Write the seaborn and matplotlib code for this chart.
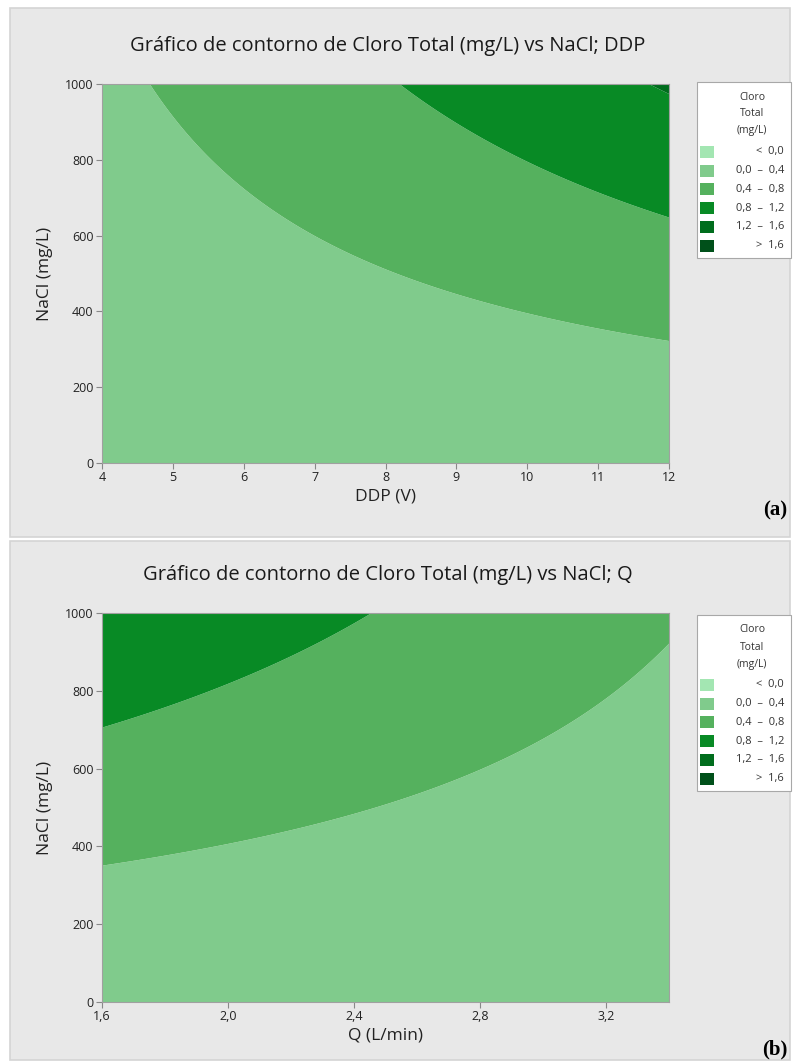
import numpy as np
import matplotlib
matplotlib.use("Agg")
import matplotlib.pyplot as plt
from matplotlib.patches import Rectangle
import seaborn as sns

# ---------------- data (fitted response-surface slices) ----------------
# Panel (a): Cloro = b0 + bN*NaCl + bDN*DDP*NaCl
coef_a = [0.005, -1.36e-4, 1.136e-4]          # b0, bN, bDN
ddp_range = [4, 12]
nacl_range = [0, 1000]
# Panel (b): Cloro = b0 + bN*NaCl + bQN*Q*NaCl
coef_b = [0.005, 1.748e-3, -3.88e-4]          # b0, bN, bQN
q_range = [1.6, 3.4]

levels = [-1e9, 0.0, 0.4, 0.8, 1.2, 1.6, 1e9]
legend_labels = ["<  0,0", "0,0  –  0,4", "0,4  –  0,8", "0,8  –  1,2", "1,2  –  1,6", ">  1,6"]
colors = ["#A3E6B2", "#80CB8C", "#55B15E", "#088A25", "#006D1D", "#00501A"]

ddp_ticks = [4, 5, 6, 7, 8, 9, 10, 11, 12]
q_ticks = [1.6, 2.0, 2.4, 2.8, 3.2]
q_ticklabels = ["1,6", "2,0", "2,4", "2,8", "3,2"]
nacl_ticks = [0, 200, 400, 600, 800, 1000]

titles = ["Gráfico de contorno de Cloro Total (mg/L) vs NaCl; DDP",
          "Gráfico de contorno de Cloro Total (mg/L) vs NaCl; Q"]
xlabels = ["DDP (V)", "Q (L/min)"]
ylabel = "NaCl (mg/L)"
panel_tags = ["(a)", "(b)"]

# ---------------- style ----------------
sns.set_theme(style="white")
plt.rcParams['font.family'] = ['Open Sans', 'DejaVu Sans']
pal = sns.color_palette(colors)

W, H = 800, 1064
fig = plt.figure(figsize=(W / 100, H / 100), dpi=100)
fig.patch.set_facecolor("white")

def fx(px): return px / W
def fy(py): return 1 - py / H

# panel backgrounds
for (top, bot) in [(8, 537), (541, 1060)]:
    fig.patches.append(Rectangle((fx(10), fy(bot)), fx(790) - fx(10), fy(top) - fy(bot),
                                 transform=fig.transFigure, facecolor="#E8E8E8",
                                 edgecolor="#D4D4D4", lw=1.2, zorder=-5))

axes_px = [(84, 463), (613, 1002)]
legend_px = [(82, 258), (615, 791)]
xranges = [ddp_range, q_range]
coefs = [coef_a, coef_b]

for i in range(2):
    top, bot = axes_px[i]
    ax = fig.add_axes([fx(102), fy(bot), fx(669) - fx(102), fy(top) - fy(bot)])
    ax.set_zorder(2)
    xr = xranges[i]
    x = np.linspace(xr[0], xr[1], 300)
    y = np.linspace(nacl_range[0], nacl_range[1], 300)
    X, Y = np.meshgrid(x, y)
    c = coefs[i]
    Z = c[0] + c[1] * Y + c[2] * X * Y
    ax.contourf(X, Y, Z, levels=levels, colors=pal, antialiased=True)
    ax.set_xlim(xr)
    ax.set_ylim(nacl_range)
    if i == 0:
        ax.set_xticks(ddp_ticks)
        ax.set_xticklabels([str(t) for t in ddp_ticks])
    else:
        ax.set_xticks(q_ticks)
        ax.set_xticklabels(q_ticklabels)
    ax.set_yticks(nacl_ticks)
    ax.set_yticklabels([str(t) for t in nacl_ticks])
    ax.tick_params(axis="both", which="both", direction="out", length=4, width=0.8,
                   color="#888888", labelsize=9, labelcolor="#222222", pad=2,
                   bottom=True, left=True)
    for s in ax.spines.values():
        s.set_color("#A0A0A0")
        s.set_linewidth(0.8)
    ax.set_xlabel(xlabels[i], fontsize=12.5, color="#222222", labelpad=3)
    ax.set_ylabel(ylabel, fontsize=12.5, color="#222222", labelpad=9)
    # title
    fig.text(fx(388), fy(top - 38), titles[i], ha="center", va="center",
             fontsize=14.5, color="#1a1a1a")
    # panel tag
    fig.text(fx(775), fy(bot + 47), panel_tags[i], ha="center", va="center",
             fontsize=15, fontweight="bold", family="Liberation Serif", color="black")

    # legend box
    lt, lb = legend_px[i]
    fig.patches.append(Rectangle((fx(697), fy(lb)), fx(791) - fx(697), fy(lt) - fy(lb),
                                 transform=fig.transFigure, facecolor="white",
                                 edgecolor="#A8A8A8", lw=0.8, zorder=1))
    for j, line in enumerate(["Cloro", "Total", "(mg/L)"]):
        fig.text(fx(752), fy(lt + 15 + j * 17), line, ha="center", va="center",
                 fontsize=7.5, color="#333333")
    for k in range(len(legend_labels)):
        yc = lt + 70 + k * 18.7
        fig.patches.append(Rectangle((fx(700), fy(yc + 6)), fx(14), 12 / H,
                                     transform=fig.transFigure, facecolor=pal[k],
                                     edgecolor="none", zorder=2))
        fig.text(fx(784), fy(yc), legend_labels[k], ha="right", va="center",
                 fontsize=8, color="#333333")

fig.savefig("out.png", dpi=100)
